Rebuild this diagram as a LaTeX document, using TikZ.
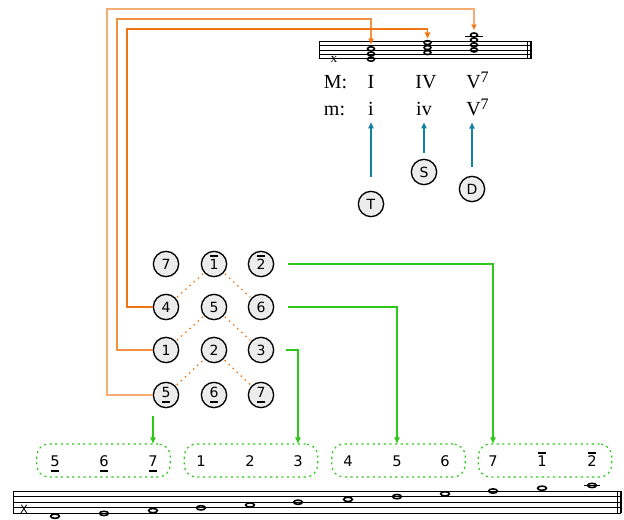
\documentclass[tikz,border=0pt]{standalone}
\usepackage{fontspec}
\setmainfont{Liberation Serif}
\newfontfamily\dejavu{DejaVu Sans}
\usepackage{tikz}
\usetikzlibrary{arrows.meta}

\definecolor{orng}{RGB}{240,118,20}
\definecolor{grn}{RGB}{45,200,25}
\definecolor{fnblue}{RGB}{23,128,163}
\definecolor{degfill}{RGB}{236,236,236}

% scale degrees with a bar above / below
\newcommand\hibar[1]{\ooalign{#1\cr\hidewidth\raisebox{0.86em}{\rule{0.55em}{1.3pt}}\hidewidth\cr}}
\newcommand\lobar[1]{\ooalign{#1\cr\hidewidth\raisebox{-0.36em}{\rule{0.55em}{1.3pt}}\hidewidth\cr}}
% seventh
\newcommand\sev{\raisebox{4.5pt}{\fontsize{12}{12}\selectfont 7}}

\tikzset{
  deg/.style={circle, draw, line width=1pt, fill=degfill, minimum size=19pt, inner sep=0pt,
    font=\dejavu\fontsize{10.5}{12}\selectfont},
  roman/.style={font=\fontsize{15}{18}\selectfont, inner sep=0.75pt, anchor=base},
  digit/.style={font=\dejavu\fontsize{11}{13}\selectfont, inner sep=0.75pt, anchor=base},
  grp/.style={draw=grn, line width=0.9pt, dash pattern=on 1.6pt off 2.6pt, rounded corners=9pt,
    minimum width=100pt, minimum height=24.75pt},
  staffline/.style={line width=0.75pt},
  nhead/.style={line width=1.2pt},
  lead/.style={draw=orng, line width=0.9pt, -{Triangle[length=4.5pt,width=4pt]}},
  voice/.style={draw=orng, line width=0.9pt, dash pattern=on 1.2pt off 3pt, shorten <=1pt, shorten >=1pt},
  tie/.style={draw=grn, line width=0.8pt, shorten <=10pt, -{Triangle[length=4.5pt,width=4pt]}},
  func/.style={draw=fnblue, line width=0.9pt, shorten >=4pt, -{Triangle[length=4.5pt,width=4pt]}}
}

\begin{document}
\begin{tikzpicture}[x=0.75pt,y=0.75pt,yscale=-1,xscale=1]
\path (0,0) rectangle (624,520);

%Shape: top staff
\foreach \yy in {41.7,45.9,50.1,54.3,58.5} \draw[staffline] (319,\yy) -- (532,\yy);
\draw[staffline] (319,41.7) -- (319,58.5);
\draw[staffline] (527.3,41.7) -- (527.3,58.5);
\draw[line width=1.5pt] (531,41.7) -- (531,58.5);
\node[font=\fontsize{10}{10}\selectfont, inner sep=0pt] (clefx) at (334,59) {x};

%Shape: chords
\foreach \yy in {48.8,54,59.2} \draw[nhead] (371,\yy) ellipse [x radius=2.6pt, y radius=1.5pt];
\foreach \yy in {42.6,47.6,52.6} \draw[nhead] (427.5,\yy) ellipse [x radius=2.6pt, y radius=1.5pt];
\foreach \yy in {35,40,45,50} \draw[nhead] (474,\yy) ellipse [x radius=2.6pt, y radius=1.5pt];
\draw[staffline] (465,36.7) -- (483,36.7);
\coordinate (chI) at (371,44.5);
\coordinate (chIV) at (427.5,38.5);
\coordinate (chV) at (474,30.5);

% Text Node: chord names
\node[roman] (MM) at (335.5,89) {M:};
\node[roman] (MI) at (371,89) {I};
\node[roman] (MIV) at (426,89) {IV};
\node[roman, anchor=base west] (MV) at (465,89) {V\sev};
\node[roman] (mm) at (334.5,115.7) {m:};
\node[roman] (mi) at (371,115.7) {i};
\node[roman] (miv) at (424,115.7) {iv};
\node[roman, anchor=base west] (mV) at (465,115.7) {V\sev};

% functions
\node[deg] (T) at (371,204) {T};
\node[deg] (S) at (424,172) {S};
\node[deg] (D) at (472,189) {D};
\draw[func, shorten <=10pt] (T) -- (T |- mi.south);
\draw[func, shorten <=4.5pt] (S) -- (S |- miv.south);
\draw[func, shorten <=6.5pt] (D) -- (D |- mV.south);

% scale degrees
\node[deg] (n7) at (166,264) {7};
\node[deg] (n1h) at (214,264) {\hibar{1}};
\node[deg] (n2h) at (261,264) {\hibar{2}};
\node[deg] (n4) at (166,307) {4};
\node[deg] (n5) at (214,307) {5};
\node[deg] (n6) at (261,307) {6};
\node[deg] (n1) at (166,350) {1};
\node[deg] (n2) at (214,350) {2};
\node[deg] (n3) at (261,350) {3};
\node[deg] (n5l) at (166,395) {\lobar{5}};
\node[deg] (n6l) at (214,395) {\lobar{6}};
\node[deg] (n7l) at (261,395) {\lobar{7}};

\draw[voice] (n4) -- (n1h);
\draw[voice] (n1h) -- (n6);
\draw[voice] (n1) -- (n5);
\draw[voice] (n5) -- (n3);
\draw[voice] (n5l) -- (n2);
\draw[voice] (n2) -- (n7l);

% leads to the chords
\coordinate (bIV) at (127,29);
\coordinate (bI) at (117,19);
\coordinate (bV) at (107,9);
\draw[lead] (n4) -| (bIV) -| (chIV);
\draw[lead, draw opacity=.8] (n1) -| (bI) -| (chI);
\draw[lead, draw opacity=.6] (n5l) -| (bV) -| (chV);

% groups of three
\node[grp] (box1) at (103.5,460.5) {};
\node[grp] (box2) at (251,460.5) {};
\node[grp] (box3) at (398.5,460.5) {};
\node[grp] (box4) at (545,460.5) {};
\node[digit] (q5l) at (55,466.5) {\lobar{5}};
\node[digit] (q6l) at (104,466.5) {\lobar{6}};
\node[digit] (q7l) at (153,466.5) {\lobar{7}};
\node[digit] (q1) at (201,466.5) {1};
\node[digit] (q2) at (250,466.5) {2};
\node[digit] (q3) at (298,466.5) {3};
\node[digit] (q4) at (348,466.5) {4};
\node[digit] (q5) at (397,466.5) {5};
\node[digit] (q6) at (445,466.5) {6};
\node[digit] (q7) at (493,466.5) {7};
\node[digit] (q1h) at (542,466.5) {\hibar{1}};
\node[digit] (q2h) at (592,466.5) {\hibar{2}};

\draw[tie] (n2h) -| (q7 |- box4.north);
\draw[tie] (n6) -| (q5 |- box3.north);
\draw[tie, shorten <=9pt] (n3) -| (q3 |- box2.north);
\draw[tie, shorten <=6pt] (n5l.south -| q7l) -- (q7l |- box1.north);

%Shape: bottom staff
\foreach \yy in {491,496.6,502.2,507.8,513.4} \draw[staffline] (13,\yy) -- (621,\yy);
\draw[staffline] (13,491) -- (13,513.4);
\draw[staffline] (617,491) -- (617,513.4);
\draw[line width=1.5pt] (620.5,491) -- (620.5,513.4);
\node[font=\dejavu\fontsize{8.5}{9}\selectfont, inner sep=0pt] (clefX) at (24,509) {X};
\foreach \xx [count=\i from 0] in {55,104,153,201,250,298,348,397,445,493,542,592}
  \draw[nhead] (\xx,516.2-2.8*\i) ellipse [x radius=3.3pt, y radius=1.6pt];
\draw[staffline] (584,485.4) -- (600,485.4);

\end{tikzpicture}
\end{document}
